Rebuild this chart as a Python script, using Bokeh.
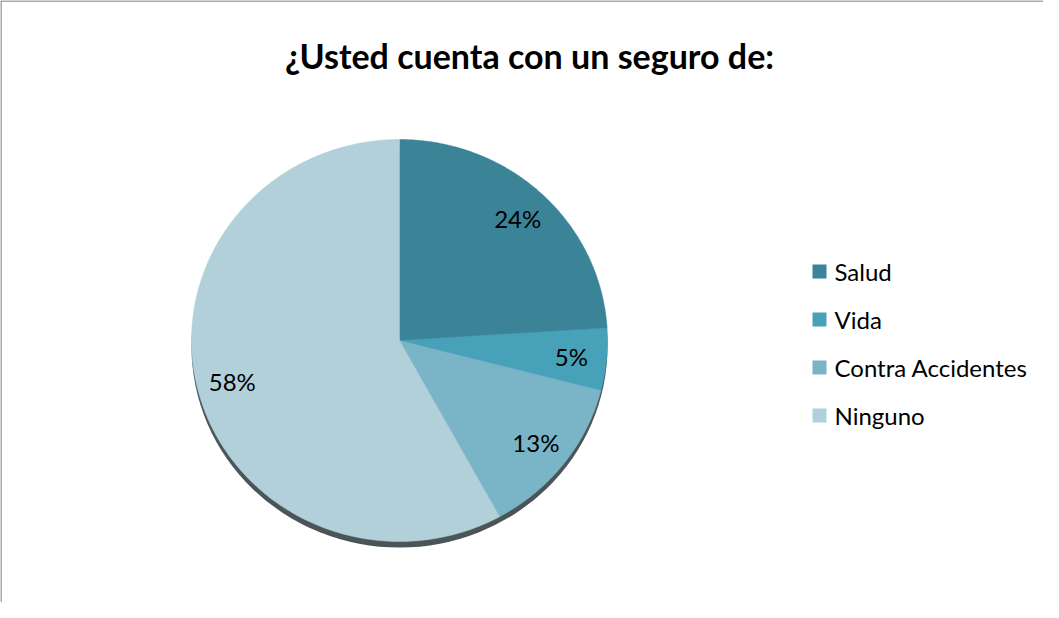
import numpy as np
from bokeh.plotting import figure
from bokeh.models import Range1d, Span, ColumnDataSource
from bokeh.core.properties import value
from bokeh.embed import file_html
from bokeh.resources import INLINE

title = "¿Usted cuenta con un seguro de:"
categories = ["Salud", "Vida", "Contra Accidentes", "Ninguno"]
percents = [24, 5, 13, 58]
colors = ["#3b8396", "#47a1b9", "#79b4c7", "#b2d0da"]

W, H = 1043, 602
p = figure(width=W, height=H, output_backend="svg", toolbar_location=None,
           x_range=Range1d(0, W), y_range=Range1d(H, 0), min_border=0)
p.axis.visible = False
p.grid.visible = False
p.outline_line_color = None
p.background_fill_color = "white"

# chart border (left and top visible)
p.add_layout(Span(location=0.5, dimension="height", line_color="#8f8f8f", line_width=1.5))
p.add_layout(Span(location=0.5, dimension="width", line_color="#8f8f8f", line_width=1.5))

cx, cy, rx, ry = 399, 340, 208, 201

# shadow
p.ellipse(x=[cx], y=[cy + 6], width=[2 * rx], height=[2 * ry],
          fill_color="#4b5558", line_color=None)

fr = np.array(percents, dtype=float) / sum(percents)
ends = np.cumsum(fr)
starts = ends - fr
xs, ys, lx, ly, labels = [], [], [], [], []
for s, e, f in zip(starts, ends, fr):
    a0 = np.pi / 2 - 2 * np.pi * s
    a1 = np.pi / 2 - 2 * np.pi * e
    t = np.linspace(a0, a1, 200)
    xs.append([cx] + list(cx + rx * np.cos(t)))
    ys.append([cy] + list(cy - ry * np.sin(t)))
    m = (a0 + a1) / 2
    lx.append(cx + 0.83 * rx * np.cos(m))
    ly.append(cy - 0.83 * ry * np.sin(m))
    labels.append(f"{round(f * 100)}%")

src = ColumnDataSource(dict(xs=xs, ys=ys, color=colors, cat=categories))
p.patches("xs", "ys", fill_color="color", line_color="color", line_width=0.5, source=src)

p.text(x=lx, y=ly, text=labels, text_align="center", text_baseline="middle",
       text_font=value("Lato"), text_font_size="24px", text_color="#000000")

# title
p.text(x=[529], y=[55], text=[title], text_align="center", text_baseline="alphabetic",
       text_font=value("Lato"), text_font_style="bold", text_font_size="34px",
       text_color="#000000")

# legend
ly0, dy = 271, 48
leg_y = [ly0 + i * dy for i in range(len(categories))]
p.rect(x=[819] * len(categories), y=leg_y, width=14, height=14,
       fill_color=colors, line_color=None)
p.text(x=[834] * len(categories), y=leg_y, text=categories, text_align="left",
       text_baseline="middle", text_font=value("Lato"), text_font_size="24px",
       text_color="#000000")

open("out.html", "w").write(file_html(p, INLINE))
